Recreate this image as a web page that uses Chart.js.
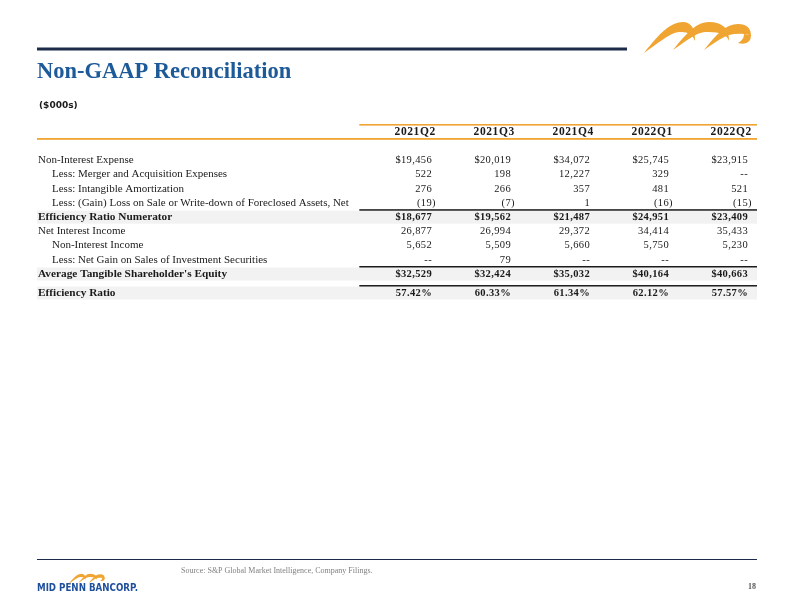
<!DOCTYPE html>
<html>
<head>
<meta charset="utf-8">
<script src="https://cdn.jsdelivr.net/npm/chart.js@4.4.1/dist/chart.umd.min.js"></script>
<style>
html,body{margin:0;padding:0;background:#fff}
canvas{display:block}
</style>
</head>
<body>
<canvas id="recon" width="792" height="612"></canvas>
<script>
// table data ($000s)
const quarters = ["2021Q2","2021Q3","2021Q4","2022Q1","2022Q2"];
const nonInterestExpense = [19456, 20019, 34072, 25745, 23915];
const mergerExpenses     = [522, 198, 12227, 329, null];
const intangibleAmort    = [276, 266, 357, 481, 521];
const foreclosedLoss     = [-19, -7, 1, -16, -15];
const effNumerator       = [18677, 19562, 21487, 24951, 23409];
const netInterestIncome  = [26877, 26994, 29372, 34414, 35433];
const nonInterestIncome  = [5652, 5509, 5660, 5750, 5230];
const securitiesGain     = [null, 79, null, null, null];
const avgTangibleEquity  = [32529, 32424, 35032, 40164, 40663];
const efficiencyRatio    = [57.42, 60.33, 61.34, 62.12, 57.57];

const rowLabels = [
    "Non-Interest Expense",
    "Less: Merger and Acquisition Expenses",
    "Less: Intangible Amortization",
    "Less: (Gain) Loss on Sale or Write-down of Foreclosed Assets, Net",
    "Efficiency Ratio Numerator",
    "Net Interest Income",
    "Non-Interest Income",
    "Less: Net Gain on Sales of Investment Securities",
    "Average Tangible Shareholder's Equity",
    "Efficiency Ratio"
];
const rowKinds = ["lead","sub","sub","sub","total","main","sub","sub","total","ratio"];
const rowValues = [nonInterestExpense, mergerExpenses, intangibleAmort, foreclosedLoss, effNumerator,
                   netInterestIncome, nonInterestIncome, securitiesGain, avgTangibleEquity, efficiencyRatio];

const NAVY = "#1c2b4a", BLUE = "#1d5a99", ORANGE = "#f0a431", INK = "#1a1a1a";
const SERIF = "'Liberation Serif', serif";

// row slots: header at 0, first row at 2, a little extra air before the ratio
let slot = 1;
const rowSlots = rowKinds.map(k => { slot += (k === "ratio") ? 1.34 : 1; return slot; });

const datasets = [{
    kind: "header",
    data: quarters.map((q, i) => ({ x: i + 1, y: 0 }))
}];
rowLabels.forEach((label, r) => {
    datasets.push({
        kind: rowKinds[r],
        label: label,
        values: rowValues[r],
        data: rowValues[r].map((v, i) => ({ x: i + 1, y: rowSlots[r] }))
    });
});

function fmt(v, kind){
    if(v === null) return "--";
    if(kind === "ratio") return v.toFixed(2) + "%";
    const dollar = (kind === "lead" || kind === "total") ? "$" : "";
    const s = dollar + Math.abs(v).toLocaleString("en-US");
    return v < 0 ? "(" + s + ")" : s;
}

function wave(ctx, tail, peak, head){
    ctx.beginPath();
    ctx.moveTo(tail[0], tail[1]);
    ctx.bezierCurveTo(tail[0] + (peak[0] - tail[0]) * 0.4, tail[1] - (tail[1] - peak[1]) * 0.65,
                      peak[0] - 12, peak[1], peak[0], peak[1]);
    ctx.quadraticCurveTo(head[0], peak[1], head[0], head[1]);
    ctx.quadraticCurveTo(head[0] - 3, peak[1] + 9, peak[0] - 4, peak[1] + 10);
    ctx.bezierCurveTo(peak[0] - 14, peak[1] + 11, tail[0] + 12, tail[1] - 8, tail[0], tail[1]);
    ctx.fill();
}

function waves(ctx){
    ctx.fillStyle = ORANGE;
    wave(ctx, [644,53], [683,22], [695,41]);
    wave(ctx, [673,50], [709,22], [729,41]);
    wave(ctx, [704,50], [738,24], [751,36]);
    ctx.beginPath();
    ctx.moveTo(751, 35);
    ctx.quadraticCurveTo(751, 46, 738, 43);
    ctx.quadraticCurveTo(744, 40, 744, 34);
    ctx.fill();
}

const decor = {
    id: "decor",
    beforeDraw(chart){
        const ctx = chart.ctx;
        ctx.save();
        ctx.fillStyle = "#fff";
        ctx.fillRect(0, 0, chart.width, chart.height);

        ctx.fillStyle = NAVY;
        ctx.fillRect(37, 47.5, 590, 3);
        waves(ctx);

        ctx.fillStyle = BLUE;
        ctx.font = "bold 22.5px " + SERIF;
        ctx.textBaseline = "alphabetic";
        ctx.fillText("Non-GAAP Reconciliation", 37, 78);

        ctx.fillStyle = INK;
        ctx.font = "bold 9px 'DejaVu Sans', sans-serif";
        ctx.fillText("($000s)", 39, 108);

        // footer
        ctx.fillStyle = NAVY;
        ctx.fillRect(37, 559, 720, 1);
        ctx.fillStyle = "#7f7f7f";
        ctx.font = "8px " + SERIF;
        ctx.fillText("Source: S&P Global Market Intelligence, Company Filings.", 181, 573);
        ctx.fillStyle = "#595959";
        ctx.font = "bold 8px " + SERIF;
        ctx.textAlign = "right";
        ctx.fillText("18", 756, 589);
        ctx.textAlign = "left";
        ctx.fillStyle = "#1e4f9c";
        ctx.font = "bold 10px 'DejaVu Sans', sans-serif";
        ctx.fillText("MID PENN BANCORP.", 37, 591, 101);
        const s = 0.34;
        ctx.translate(68 - 643 * s, 574 - 23 * s);
        ctx.scale(s, s);
        waves(ctx);
        ctx.restore();
    },
    beforeDatasetsDraw(chart){
        const ctx = chart.ctx, x = chart.scales.x, y = chart.scales.y, area = chart.chartArea;
        const colLeft = x.getPixelForValue(0.08);
        ctx.save();
        // orange rules around the header
        const hy = y.getPixelForValue(0);
        ctx.fillStyle = ORANGE;
        ctx.fillRect(colLeft, hy - 8, area.right - colLeft, 1.6);
        ctx.fillRect(area.left, hy + 6, area.right - area.left, 1.8);
        // shaded total rows with a rule over the numbers
        chart.data.datasets.forEach(ds => {
            if(ds.kind !== "total" && ds.kind !== "ratio") return;
            const ry = y.getPixelForValue(ds.data[0].y);
            ctx.fillStyle = "#f2f2f2";
            ctx.fillRect(area.left, ry - 6.5, area.right - area.left, 13);
            ctx.fillStyle = "#1a1a1a";
            ctx.fillRect(colLeft, ry - 8, area.right - colLeft, 1.5);
        });
        ctx.restore();
    },
    afterDatasetsDraw(chart){
        const ctx = chart.ctx, x = chart.scales.x;
        ctx.save();
        ctx.fillStyle = INK;
        ctx.textBaseline = "middle";
        chart.data.datasets.forEach((ds, d) => {
            const pts = chart.getDatasetMeta(d).data;
            const bold = ds.kind === "header" || ds.kind === "total" || ds.kind === "ratio";
            if(ds.label){
                ctx.textAlign = "left";
                ctx.letterSpacing = "0px";
                ctx.font = bold ? "bold 11.3px " + SERIF : "11px " + SERIF;
                const indent = ds.kind === "sub" ? 15 : 1;
                ctx.fillText(ds.label, x.getPixelForValue(-4) + indent, pts[0].y);
            }
            ctx.font = (bold ? "bold " : "") + "10.5px " + SERIF;
            ctx.letterSpacing = "0.35px";
            const paren = ctx.measureText(")").width;
            ctx.textAlign = "right";
            pts.forEach((p, i) => {
                if(ds.kind === "header"){
                    ctx.font = "bold 11.5px " + SERIF;
                    ctx.letterSpacing = "0.6px";
                    ctx.fillText(quarters[i], p.x + paren, p.y);
                    return;
                }
                const v = ds.values[i];
                ctx.fillText(fmt(v, ds.kind), (v !== null && v < 0) ? p.x + paren : p.x, p.y);
            });
        });
        ctx.restore();
    }
};

new Chart(document.getElementById("recon"), {
    type: "scatter",
    data: { datasets: datasets },
    options: {
        responsive: false,
        animation: false,
        events: [],
        devicePixelRatio: 1,
        layout: { padding: { left: 37, right: 35, top: 0, bottom: 0 } },
        elements: { point: { radius: 0, hoverRadius: 0 } },
        datasets: { scatter: { clip: false, showLine: false } },
        plugins: { legend: { display: false }, tooltip: { enabled: false } },
        scales: {
            x: { type: "linear", display: false, min: -4, max: 5.114 },
            y: { type: "linear", display: false, reverse: true, min: -9.296, max: 33.803 }
        }
    },
    plugins: [decor]
});
</script>
</body>
</html>
